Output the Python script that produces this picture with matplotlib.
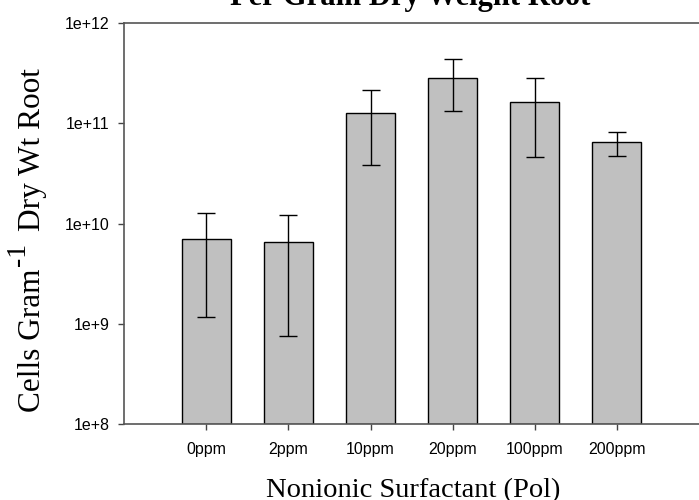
import matplotlib
matplotlib.use("Agg")
import matplotlib.pyplot as plt
import numpy as np
from matplotlib.ticker import FixedLocator, FuncFormatter, NullLocator

# waarden
categories = ['0ppm', '2ppm', '10ppm', '20ppm', '100ppm', '200ppm']
cells = [6.97e9, 6.5e9, 1.27e11, 2.83e11, 1.61e11, 6.53e10]
err_high = [1.28e10, 1.22e10, 2.15e11, 4.32e11, 2.79e11, 8.2e10]
err_low = [1.17e9, 7.5e8, 3.83e10, 1.33e11, 4.62e10, 4.7e10]
y_ticks = [1e8, 1e9, 1e10, 1e11, 1e12]

W, H = 699, 500
fig = plt.figure(figsize=(W / 100, H / 100), dpi=100)
ax = fig.add_axes([0.1778, 0.1514, 0.822, 0.8032])

x = np.arange(len(categories))
cells = np.array(cells)
yerr = np.array([cells - np.array(err_low), np.array(err_high) - cells])

ax.bar(x, cells, width=0.6, bottom=y_ticks[0], color='#c0c0c0', edgecolor='black',
       linewidth=1.0, zorder=2)
ax.errorbar(x, cells, yerr=yerr, fmt='none', ecolor='black', elinewidth=1.0,
            capsize=6.5, capthick=1.0, zorder=3)

ax.set_yscale('log')
ax.set_ylim(y_ticks[0], y_ticks[-1])
ax.set_xlim(-1, 6)
ax.yaxis.set_major_locator(FixedLocator(y_ticks))
ax.yaxis.set_minor_locator(NullLocator())
ax.yaxis.set_major_formatter(FuncFormatter(lambda v, p: '1e+%d' % int(round(np.log10(v)))))
ax.set_xticks(x)
ax.set_xticklabels(categories)

for lbl in ax.get_xticklabels() + ax.get_yticklabels():
    lbl.set_fontfamily('Liberation Sans')
    lbl.set_fontsize(11.5)

ax.tick_params(axis='x', direction='out', length=4.5, width=1.0, color='#444444', pad=8)
ax.tick_params(axis='y', direction='out', length=4.5, width=1.0, color='#444444', pad=6)

ax.spines['right'].set_visible(False)
for s in ['left', 'top', 'bottom']:
    ax.spines[s].set_color('#555555')
    ax.spines[s].set_linewidth(1.2)

fig.text(410 / W, 1 - 5 / H, 'Per Gram Dry Weight Root', ha='center', va='baseline',
         fontfamily='Liberation Serif', fontweight='bold', fontsize=22)
fig.text(413 / W, 1 - 497 / H, 'Nonionic Surfactant (Pol)', ha='center', va='baseline',
         fontfamily='Liberation Serif', fontsize=20.5)

# y-as label in stukken, zodat de -1 groot genoeg is
renderer = fig.canvas.get_renderer()
y_px = 412
t1 = fig.text(33 / W, 1 - y_px / H, 'Cells Gram', rotation=90, ha='center', va='bottom',
              fontfamily='Liberation Serif', fontsize=22.5)
y_px -= t1.get_window_extent(renderer).height + 2
fig.text(19 / W, 1 - y_px / H, '-1', rotation=90, ha='center', va='bottom',
         fontfamily='Liberation Serif', fontsize=20)
fig.text(33 / W, 1 - 68 / H, 'Dry Wt Root', rotation=90, ha='center', va='top',
         fontfamily='Liberation Serif', fontsize=22.5)

fig.savefig('out.png', dpi=100)
